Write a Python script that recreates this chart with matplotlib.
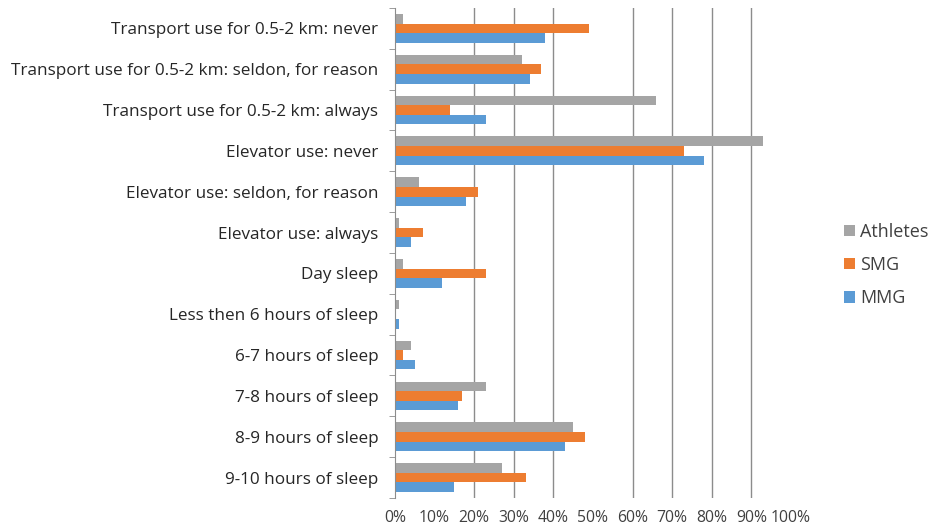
import numpy as np
import matplotlib.pyplot as plt
from matplotlib.ticker import PercentFormatter

# categories from bottom to top
categories = ["9-10 hours of sleep", "8-9 hours of sleep", "7-8 hours of sleep",
              "6-7 hours of sleep", "Less then 6 hours of sleep", "Day sleep",
              "Elevator use: always", "Elevator use: seldon, for reason",
              "Elevator use: never", "Transport use for 0.5-2 km: always",
              "Transport use for 0.5-2 km: seldon, for reason",
              "Transport use for 0.5-2 km: never"]

athletes = [27, 45, 23, 4, 1, 2, 1, 6, 93, 66, 32, 2]
smg = [33, 48, 17, 2, 0, 23, 7, 21, 73, 14, 37, 49]
mmg = [15, 43, 16, 5, 1, 12, 4, 18, 78, 23, 34, 38]

grid_at = [20, 30, 40, 60, 70, 80, 90]

plt.rcParams['font.family'] = ['Open Sans', 'DejaVu Sans']

fig = plt.figure(figsize=(9.3, 5.3), dpi=100)
ax = fig.add_axes([0.4247, 0.0604, 0.4258, 0.9246])

y = np.arange(len(categories))
h = 0.235
ax.barh(y + h, np.array(athletes) / 100, height=h, color="#A5A5A5", label="Athletes")
ax.barh(y, np.array(smg) / 100, height=h, color="#ED7D31", label="SMG")
ax.barh(y - h, np.array(mmg) / 100, height=h, color="#5B9BD5", label="MMG")

for g in grid_at:
    ax.axvline(g / 100, color="#8C8C8C", lw=1, zorder=0)

ax.set_xlim(0, 1)
ax.set_ylim(-0.5, len(categories) - 0.5)
ax.set_xticks(np.arange(0, 1.01, 0.1))
ax.xaxis.set_major_formatter(PercentFormatter(1.0, decimals=0))
ax.tick_params(axis="x", length=0, pad=9, labelsize=11.3, labelcolor="#404040")

ax.set_yticks(y)
ax.set_yticklabels(categories)
ax.set_yticks(np.arange(-0.5, len(categories), 1), minor=True)
ax.tick_params(axis="y", which="major", length=0, pad=12, labelsize=12.3, labelcolor="#262626")
ax.tick_params(axis="y", which="minor", length=4, color="#8C8C8C")

for s in ["top", "right", "bottom"]:
    ax.spines[s].set_visible(False)
ax.spines["left"].set_color("#8C8C8C")

handles, labels = ax.get_legend_handles_labels()
fig.legend(handles, labels, loc="center left", bbox_to_anchor=(0.89, 0.5),
           frameon=False, fontsize=13, handlelength=0.6, handleheight=0.6,
           labelspacing=0.85, handletextpad=0.3, labelcolor="#404040")

fig.savefig("out.png", dpi=100)
